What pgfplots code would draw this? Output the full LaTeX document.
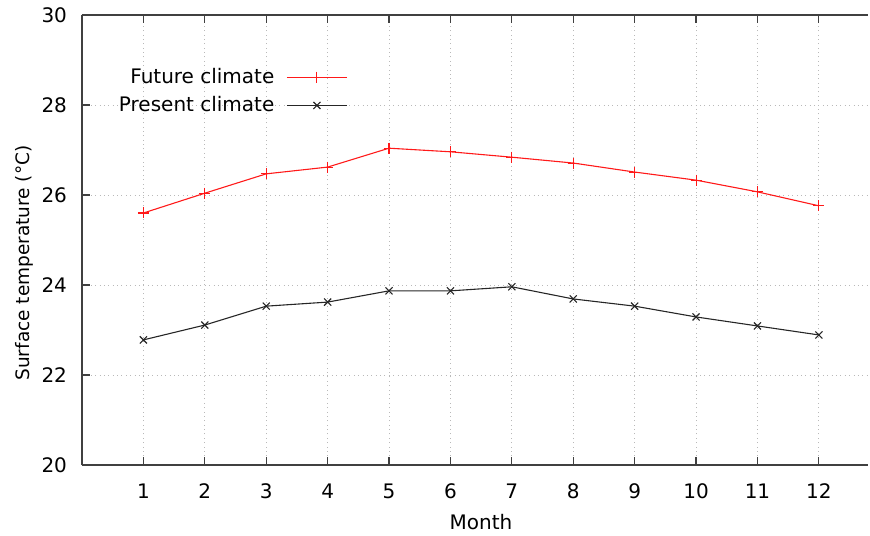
\documentclass[border=0pt]{standalone}
\usepackage{pgfplots}
\pgfplotsset{compat=1.18}
\usepackage{fontspec}
\setmainfont{DejaVu Sans}
\begin{document}
\fontsize{20.5bp}{24bp}\selectfont
\begin{tikzpicture}
\begin{axis}[
  at={(0,0)}, anchor=south west,
  scale only axis, width=786bp, height=450bp,
  xmin=0, xmax=12.8, ymin=20, ymax=30,
  xtick={1,...,12}, ytick={20,22,...,30},
  axis x line*=box, axis y line*=left,
  axis line style={black!75, line width=1.3pt},
  tick style={black!75, line width=1.2pt},
  tick align=inside, major tick length=8bp,
  xtick pos=both,
  grid=major, grid style={gray!55, line width=0.9pt, dash pattern=on 0.9pt off 3.5pt},
  /pgf/number format/assume math mode=true,
  tick label style={font=\fontsize{20bp}{24bp}\selectfont},
  xticklabel style={yshift=-12bp},
  yticklabel style={xshift=-8bp},
  xlabel={Month}, ylabel={Surface temperature (°C)},
  xlabel style={font=\fontsize{20bp}{24bp}\selectfont, yshift=-1bp, xshift=6bp},
  ylabel style={font=\fontsize{18.5bp}{22bp}\selectfont, yshift=-6bp, xshift=-23bp},
  legend style={draw=none, fill=none, at={(rel axis cs:0.338,0.887)}, anchor=north east,
    font=\fontsize{20bp}{24bp}\selectfont, row sep=6bp, column sep=10bp, inner sep=0pt,
    nodes={inner sep=2pt}},
  legend cell align=right, legend plot pos=right,
  legend image code/.code={
    \draw[#1, mark repeat=2, mark phase=2] plot coordinates {(0bp,0bp) (30bp,0bp) (60bp,0bp)};},
]
\addplot[red!90!white, line width=1.1pt, mark=+, mark size=5.5bp] coordinates {
(1,25.6)(2,26.04)(3,26.47)(4,26.62)(5,27.04)(6,26.96)(7,26.84)(8,26.71)(9,26.51)(10,26.33)(11,26.07)(12,25.76)};
\addlegendentry{Future climate}
\addplot[black!85, line width=1.1pt, mark=x, mark size=5bp] coordinates {
(1,22.78)(2,23.11)(3,23.53)(4,23.62)(5,23.87)(6,23.87)(7,23.96)(8,23.69)(9,23.53)(10,23.29)(11,23.09)(12,22.89)};
\addlegendentry{Present climate}
\end{axis}
\pgfresetboundingbox
\path[use as bounding box] (-82bp,-71bp) rectangle (788bp,465bp);
\end{tikzpicture}
\end{document}
